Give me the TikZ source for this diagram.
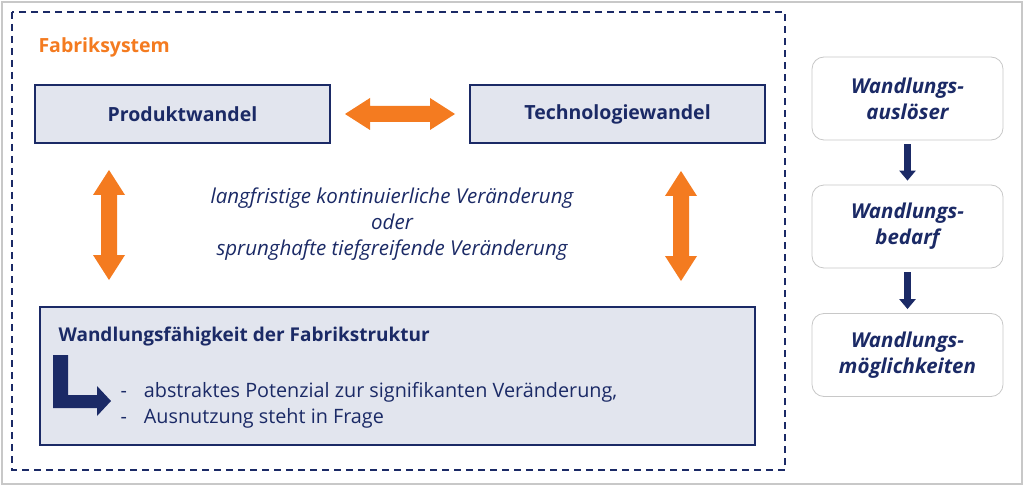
\documentclass[tikz,border=0pt]{standalone}
\usepackage{fontspec}
\setmainfont{Open Sans}
\usetikzlibrary{arrows.meta}
\definecolor{navy}{HTML}{1B2A66}
\definecolor{orng}{HTML}{F47B20}
\definecolor{boxfill}{HTML}{E2E5EE}
\definecolor{bord}{HTML}{C8C8C8}
\tikzset{
  x=1pt,y=-1pt,
  mainbox/.style={draw=navy,line width=1.3pt,fill=boxfill,inner sep=0pt},
  sidebox/.style={draw=bord,line width=0.8pt,rounded corners=12pt,fill=white,minimum width=191pt,minimum height=83pt,align=center,text=navy,font=\fontsize{20.5}{26}\selectfont\bfseries\itshape},
  dn/.style={-{Triangle[length=10pt,width=16pt]},line width=7pt,draw=navy}
}
\newcommand{\dblarrow}{(-55,0) -- (-30,-16) -- (-30,-8) -- (30,-8) -- (30,-16) -- (55,0) -- (30,16) -- (30,8) -- (-30,8) -- (-30,16) -- cycle}
\begin{document}
\begin{tikzpicture}
\useasboundingbox (0,0) rectangle (1024,486);
\draw[bord,line width=1.2pt,fill=white] (2,2) rectangle (1022,484);
\draw[navy,line width=1.3pt,dash pattern=on 7pt off 5pt] (12,12) rectangle (785,470);
\node[anchor=west,text=orng,font=\fontsize{19.5}{22}\selectfont\bfseries] (fs) at (35,47) {Fabriksystem};
\node[mainbox,minimum width=295pt,minimum height=58pt,font=\fontsize{19.5}{22}\selectfont\bfseries,text=navy] (pw) at (182.5,114) {Produktwandel};
\node[mainbox,minimum width=295pt,minimum height=58pt,font=\fontsize{19.5}{22}\selectfont\bfseries,text=navy] (tw) at (617.5,114) {Technologiewandel};
\fill[orng,shift={(400,114)}] \dblarrow;
\fill[orng,shift={(109,225)},rotate=90] \dblarrow;
\fill[orng,shift={(681,226)},rotate=90] \dblarrow;
\node[align=center,text=navy,font=\fontsize{20.5}{26}\selectfont\itshape] (mid) at (392,224) {langfristige kontinuierliche Veränderung\\oder\\sprunghafte tiefgreifende Veränderung};
\node[mainbox,minimum width=715pt,minimum height=138pt] (wf) at (397.5,376) {};
\node[anchor=west,text=navy,font=\fontsize{19}{22}\selectfont\bfseries] (wft) at (55,337) {Wandlungsfähigkeit der Fabrikstruktur};
\fill[navy] (53,355) -- (68,355) -- (68,395) -- (97,395) -- (97,386) -- (111,401) -- (97,416) -- (97,408) -- (53,408) -- cycle;
\node[anchor=west,text=navy,font=\fontsize{19.8}{26}\selectfont,align=left] (bl) at (117,405) {-\hspace{17pt}abstraktes Potenzial zur signifikanten Veränderung,\\-\hspace{17pt}Ausnutzung steht in Frage};
\node[sidebox] (s1) at (907.5,98.5) {Wandlungs-\\auslöser};
\node[sidebox] (s2) at (907.5,226.5) {Wandlungs-\\bedarf};
\node[sidebox] (s3) at (907.5,355) {Wandlungs-\\möglichkeiten};
\draw[dn] ([yshift=-4pt]s1.south) -- ([yshift=4pt]s2.north);
\draw[dn] ([yshift=-4pt]s2.south) -- ([yshift=4pt]s3.north);
\end{tikzpicture}
\end{document}
